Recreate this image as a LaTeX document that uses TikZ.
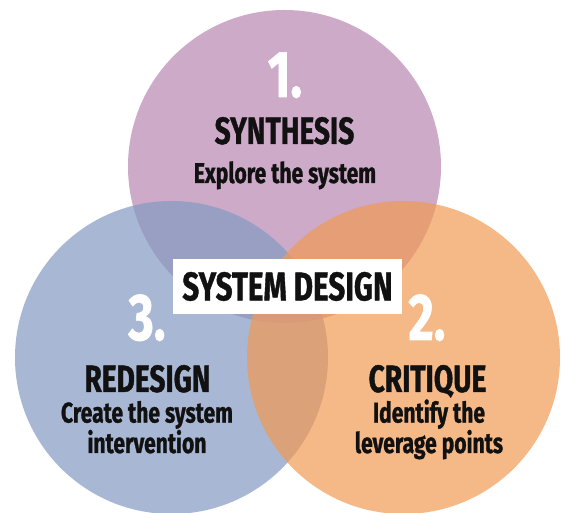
\documentclass[tikz,border=0pt]{standalone}
\usepackage{fontspec}
\newfontfamily\dinfont[FakeStretch=0.74, FakeBold=1]{Fira Sans}
\usetikzlibrary{positioning}
\definecolor{synthcol}{RGB}{184,135,178}
\definecolor{redescol}{RGB}{132,154,194}
\definecolor{critcol}{RGB}{242,154,85}
\definecolor{inkcol}{RGB}{17,17,17}

\begin{document}
\begin{tikzpicture}[x=1pt, y=1pt,
  ring/.style={fill opacity=0.7},
  num/.style={anchor=base, text=white, inner sep=0pt, font=\dinfont\bfseries\fontsize{66}{66}\selectfont},
  head/.style={anchor=base, text=inkcol, inner sep=0pt, font=\dinfont\bfseries\fontsize{38}{38}\selectfont},
  sub/.style={anchor=base, align=center, text=inkcol, inner sep=0pt, font=\dinfont\bfseries\fontsize{28.5}{28}\selectfont},
  title/.style={fill=white, text=inkcol, minimum width=229pt, minimum height=55pt, inner sep=0pt, font=\dinfont\bfseries\fontsize{40}{40}\selectfont}]
\useasboundingbox[fill=white] (0,0) rectangle (566,513);
% circle centres
\coordinate (csyn) at (284.5,346.5);
\coordinate (cred) at (171.5,155.5);
\coordinate (ccri) at (403.5,155.5);
\fill[ring, synthcol] (csyn) circle[radius=156.5];
\fill[ring, redescol] (cred) circle[radius=156.5];
\fill[ring, critcol] (ccri) circle[radius=156.5];
% 1. synthesis
\node[num] (n1) at (285,416) {1.};
\node[head] (h1) at (284.5,369) {SYNTHESIS};
\node[sub] (s1) at (285,330) {Explore the system};
% 3. redesign
\node[num] (n3) at (147,173) {3.};
\node[head] (h3) at (147.5,121) {REDESIGN};
\node[sub] (s3) at (147,60) {Create the system\\intervention};
% 2. critique
\node[num] (n2) at (427,173) {2.};
\node[head] (h2) at (427.5,121) {CRITIQUE};
\node[sub] (s2) at (429,60) {Identify the\\leverage points};
% centre label
\node[title] (sd) at (287.5,226.5) {SYSTEM DESIGN};
\end{tikzpicture}
\end{document}
